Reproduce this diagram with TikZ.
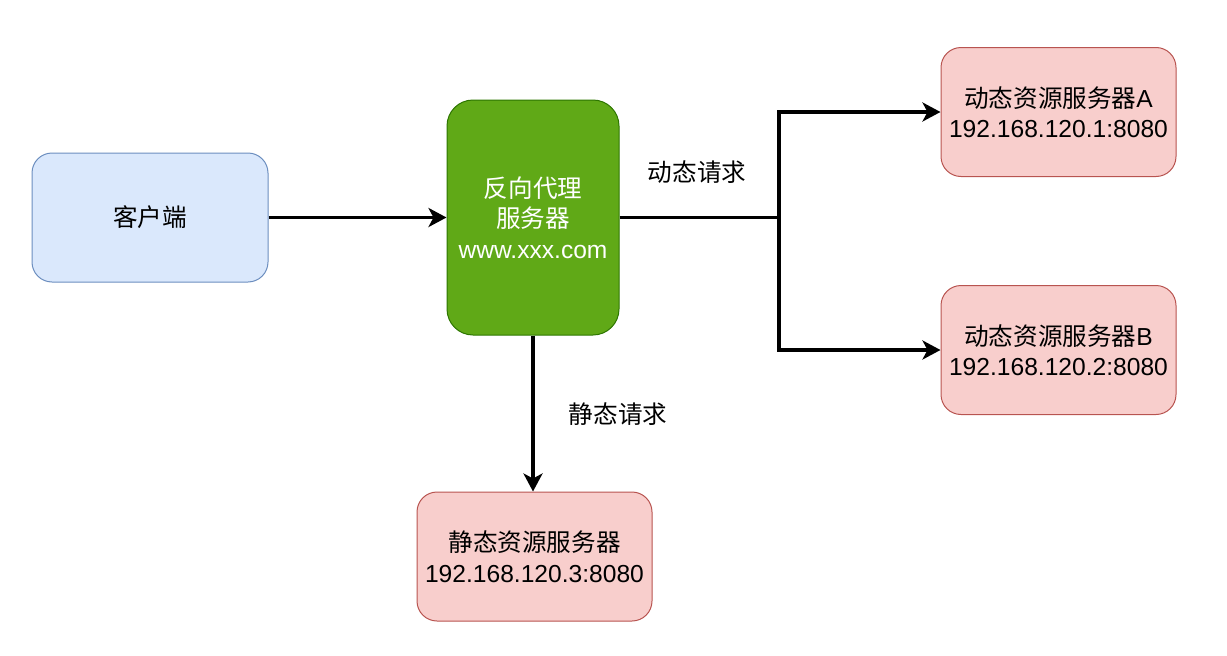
\documentclass[tikz,border=0pt]{standalone}
\usepackage{fontspec}
\setmainfont{Liberation Sans}
\newfontfamily\cjk{Noto Sans CJK SC}
\usetikzlibrary{arrows.meta}
\definecolor{bluefill}{HTML}{DAE8FC}
\definecolor{bluedraw}{HTML}{6C8EBF}
\definecolor{greenfill}{HTML}{60A917}
\definecolor{greendraw}{HTML}{2D7600}
\definecolor{redfill}{HTML}{F8CECC}
\definecolor{reddraw}{HTML}{B85450}
\tikzset{
  box/.style={rectangle, rounded corners=20pt, line width=1pt, align=center,
    inner sep=0pt, font=\fontsize{24.6}{30.5}\selectfont},
  clientbox/.style={box, fill=bluefill, draw=bluedraw},
  proxybox/.style={box, fill=greenfill, draw=greendraw, text=white, rounded corners=26pt},
  serverbox/.style={box, fill=redfill, draw=reddraw, minimum width=235pt, minimum height=129pt},
  conn/.style={line width=3.3pt},
  arr/.style={conn, -{Stealth[length=18pt, width=19pt, inset=5pt]}},
  lbl/.style={font=\fontsize{24.6}{30}\selectfont\cjk, inner sep=0pt},
}
\begin{document}
\begin{tikzpicture}[x=1pt, y=-1pt]
\useasboundingbox (0,0) rectangle (1227,656);
\node[clientbox, minimum width=236pt, minimum height=129pt] (client) at (150,217.5) {\cjk 客户端};
\node[proxybox, minimum width=172pt, minimum height=235pt] (proxy) at (533,217.5)
  {{\cjk 反向代理}\\{\cjk 服务器}\\www.xxx.com};
\node[serverbox] (srvA) at (1058.5,112) {{\cjk 动态资源服务器}A\\192.168.120.1:8080};
\node[serverbox] (srvB) at (1058.5,350) {{\cjk 动态资源服务器}B\\192.168.120.2:8080};
\node[serverbox] (srvS) at (534.5,556.5) {{\cjk 静态资源服务器}\\192.168.120.3:8080};
\coordinate (junc) at (779,217.5);
\draw[arr] (client) -- (proxy);
\draw[conn] (proxy.east) -- (junc);
\draw[arr] (junc) |- (srvA.west);
\draw[arr] (junc) |- (srvB.west);
\draw[arr] (proxy.south) -- (proxy.south |- srvS.north);
\node[lbl] (dyn) at (697,172) {动态请求};
\node[lbl] (sta) at (618,414) {静态请求};
\end{tikzpicture}
\end{document}
